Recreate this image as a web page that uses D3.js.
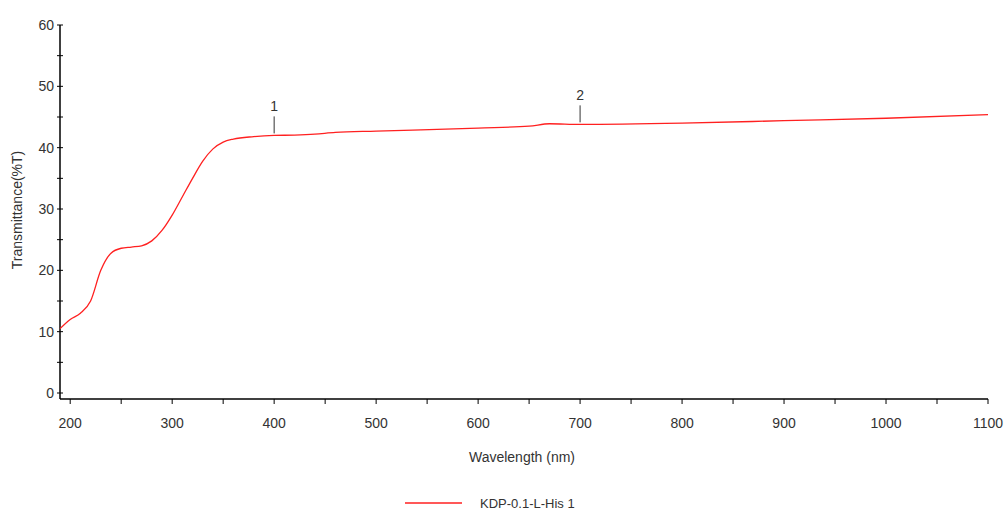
<!DOCTYPE html>
<html><head><meta charset="utf-8">
<script src="https://cdn.jsdelivr.net/npm/d3@7"></script>
<style>body{margin:0;background:#fff;font-family:"Liberation Sans",Arial,sans-serif;}</style>
</head><body>
<script>
// spectrum
const wavelength = [190,200,210,220,230,240,250,260,270,280,290,300,310,320,330,340,350,360,380,400,420,440,460,500,600,650,670,700,800,900,1000,1100];
const transmit   = [10.5,12,13,15,20,22.8,23.6,23.8,24,24.8,26.5,29,32,35,37.8,39.8,40.9,41.4,41.8,42,42.05,42.2,42.5,42.7,43.2,43.5,43.9,43.8,44,44.4,44.8,45.4];
const markerX = [400, 700];
const markerLabels = ["1", "2"];
const xTicks = [200,300,400,500,600,700,800,900,1000,1100];
const yTicks = [0,10,20,30,40,50,60];

const W = 1005, H = 511;
const x = d3.scaleLinear().domain([190,1100]).range([60,988]);
const y = d3.scaleLinear().domain([0,60]).range([393,25]);
const axisY = 399;

const svg = d3.select("body").append("svg").attr("width", W).attr("height", H);

// x axis
const gx = svg.append("g").attr("transform", `translate(0,${axisY})`);
gx.append("line").attr("x1",60).attr("x2",988).attr("stroke","#000").attr("stroke-width",1.5);
gx.selectAll(".t").data(d3.range(200,1101,50)).enter().append("line")
  .attr("x1",d=>x(d)).attr("x2",d=>x(d)).attr("y1",0).attr("y2",5).attr("stroke","#000");
gx.selectAll("text").data(xTicks).enter().append("text")
  .attr("x",d=>x(d)).attr("y",29).attr("text-anchor","middle")
  .attr("font-size",14).attr("fill","#333").text(d=>d);

// y axis
const gy = svg.append("g");
gy.append("line").attr("x1",60).attr("x2",60).attr("y1",y(60)).attr("y2",axisY).attr("stroke","#000").attr("stroke-width",1.5);
gy.selectAll(".t").data(d3.range(0,61,5)).enter().append("line")
  .attr("x1",57).attr("x2",63).attr("y1",d=>y(d)).attr("y2",d=>y(d)).attr("stroke","#000");
gy.selectAll("text").data(yTicks).enter().append("text")
  .attr("x",54).attr("y",d=>y(d)+5).attr("text-anchor","end")
  .attr("font-size",14).attr("fill","#333").text(d=>d);

// labels
svg.append("text").attr("transform",`translate(22,210) rotate(-90)`).attr("text-anchor","middle")
  .attr("font-size",14).attr("fill","#333").text("Transmittance(%T)");
svg.append("text").attr("x",522).attr("y",462).attr("text-anchor","middle")
  .attr("font-size",14).attr("fill","#333").text("Wavelength (nm)");

// curve
const pts = wavelength.map((w,i)=>[w,transmit[i]]);
svg.append("path").datum(pts)
  .attr("d", d3.line().x(d=>x(d[0])).y(d=>y(d[1])).curve(d3.curveMonotoneX))
  .attr("fill","none").attr("stroke","#ff2020").attr("stroke-width",1.3);

// peak markers
const interp = w => { const i = d3.bisectLeft(wavelength, w); if (wavelength[i]===w) return transmit[i];
  const t=(w-wavelength[i-1])/(wavelength[i]-wavelength[i-1]); return transmit[i-1]+t*(transmit[i]-transmit[i-1]); };
markerX.forEach((w,i)=>{
  const yy = y(interp(w));
  svg.append("line").attr("x1",x(w)).attr("x2",x(w)).attr("y1",yy-2).attr("y2",yy-19).attr("stroke","#333");
  svg.append("text").attr("x",x(w)).attr("y",yy-24).attr("text-anchor","middle")
    .attr("font-size",14).attr("fill","#333").text(markerLabels[i]);
});

// legend
svg.append("line").attr("x1",405).attr("x2",462).attr("y1",503).attr("y2",503).attr("stroke","#ff2020").attr("stroke-width",1.3);
svg.append("text").attr("x",480).attr("y",508).attr("font-size",13).attr("fill","#333").text("KDP-0.1-L-His 1");
</script>
</body></html>
